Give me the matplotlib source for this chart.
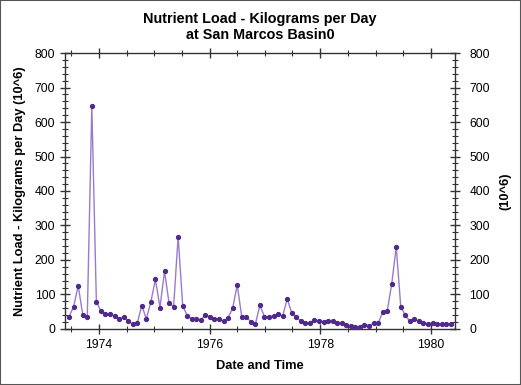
import numpy as np
import pandas as pd
import matplotlib
matplotlib.use("Agg")
import matplotlib.pyplot as plt
import matplotlib.dates as mdates
from matplotlib.patches import Rectangle

plt.rcParams['font.family'] = ['Liberation Sans', 'DejaVu Sans']

# sample dates, roughly every 30 days from mid June 1973
dates = pd.date_range(start="1973-06-17", periods=85, freq="30D")
# nutrient load (10^6 kg/day)
load = [36, 65, 126, 41, 35, 647, 79, 52, 44, 44,
        38, 29, 35, 23, 14, 17, 68, 29, 79, 144,
        62, 167, 75, 65, 268, 67, 39, 29, 29, 27,
        40, 36, 28, 28, 22, 33, 60, 128, 35, 35,
        21, 14, 69, 35, 35, 38, 43, 37, 87, 47,
        35, 23, 18, 18, 27, 23, 21, 23, 22, 18,
        16, 12, 9, 7, 5, 12, 10, 16, 16, 48,
        51, 130, 238, 64, 40, 22, 30, 22, 17, 15,
        18, 14, 14, 14, 14]

fig = plt.figure(figsize=(5.21, 3.85), dpi=100)
fig.patches.append(Rectangle((0, 0), 1, 1, transform=fig.transFigure,
                             fill=False, edgecolor="#555555", linewidth=1.5))
ax = fig.add_axes([0.1248, 0.1455, 0.7485, 0.7168])

ax.plot(dates, load, color="#9a7ad0", linewidth=1.0, zorder=2)
ax.plot(dates, load, linestyle="none", marker="o", markersize=2.8,
        color="#4f2a8c", zorder=3)

ax.set_xlim(pd.Timestamp("1973-05-21"), pd.Timestamp("1980-06-08"))
ax.set_ylim(0, 800)
ax.xaxis.set_major_locator(mdates.YearLocator(2))
ax.xaxis.set_major_formatter(mdates.DateFormatter("%Y"))
ax.xaxis.set_minor_locator(mdates.MonthLocator(bymonth=[1, 7]))
ax.yaxis.set_major_locator(plt.MultipleLocator(100))
ax.yaxis.set_minor_locator(plt.MultipleLocator(20))

for s in ax.spines.values():
    s.set_color("#333333")
    s.set_linewidth(1.0)

ax.tick_params(which="both", direction="inout", top=True, colors="#333333",
               labelcolor="black", labelsize=8.7)
ax.tick_params(which="major", length=7, width=1)
ax.tick_params(which="minor", length=5, width=0.8)
ax.tick_params(axis="x", which="major", pad=4)

ax2 = ax.twinx()
ax2.set_ylim(0, 800)
ax2.yaxis.set_major_locator(plt.MultipleLocator(100))
ax2.yaxis.set_minor_locator(plt.MultipleLocator(20))
ax2.tick_params(which="both", direction="inout", colors="#333333",
                labelcolor="black", labelsize=8.7)
ax2.tick_params(which="major", length=7, width=1, pad=7)
ax2.tick_params(which="minor", length=5, width=0.8)
for s in ax2.spines.values():
    s.set_visible(False)

ax.set_ylabel("Nutrient Load - Kilograms per Day (10^6)", fontsize=9.3,
              fontweight="bold", labelpad=6)
ax2.set_ylabel("(10^6)", fontsize=9.3, fontweight="bold", labelpad=7)
ax.set_xlabel("Date and Time", fontsize=9.3, fontweight="bold", labelpad=6)
ax.set_title("Nutrient Load - Kilograms per Day\nat San Marcos Basin0",
             fontsize=10.4, fontweight="bold", pad=10, linespacing=1.2)

fig.savefig("out.png", dpi=100)
